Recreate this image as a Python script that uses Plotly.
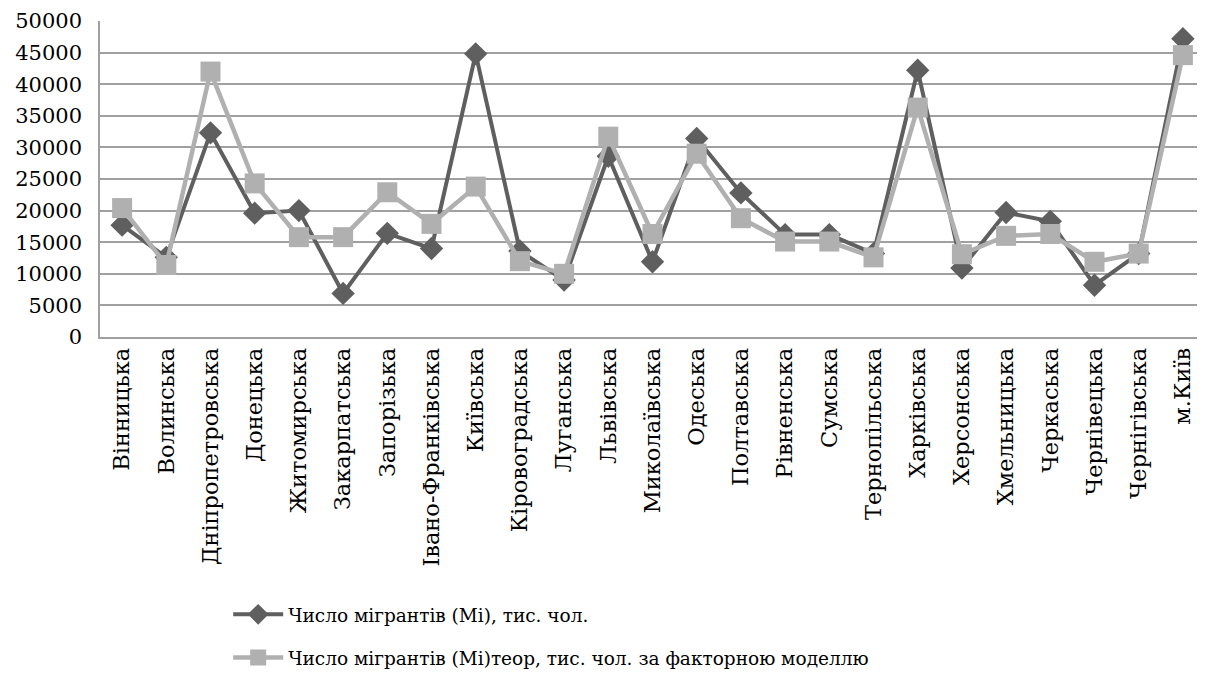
import plotly.graph_objects as go

regions = ["Вінницька", "Волинська", "Дніпропетровська", "Донецька", "Житомирська",
           "Закарпатська", "Запорізька", "Івано-Франківська", "Київська", "Кіровоградська",
           "Луганська", "Львівська", "Миколаївська", "Одеська", "Полтавська", "Рівненська",
           "Сумська", "Тернопільська", "Харківська", "Херсонська", "Хмельницька", "Черкаська",
           "Чернівецька", "Чернігівська", "м.Київ"]

migrants = [17700, 12600, 32300, 19600, 20000, 6900, 16400, 14000, 44800, 13600,
            9000, 28600, 11900, 31400, 22800, 16200, 16200, 13200, 42200, 10900,
            19700, 18300, 8200, 13200, 47200]

migrants_theor = [20400, 11400, 42000, 24300, 15800, 15800, 22900, 17900, 23800, 12000,
                  10000, 31700, 16300, 29000, 18800, 15100, 15100, 12600, 36300, 13100,
                  16000, 16300, 11900, 13200, 44600]

name1 = "Число мігрантів (Мі), тис. чол."
name2 = "Число мігрантів (Мі)теор, тис. чол. за факторною моделлю"

fig = go.Figure()
fig.add_trace(go.Scatter(x=regions, y=migrants, name=name1, mode="lines+markers",
                         line=dict(color="#5f5f5f", width=4),
                         marker=dict(symbol="diamond", size=18, color="#5f5f5f"),
                         legendgroup="a"))
fig.add_trace(go.Scatter(x=regions, y=migrants_theor, name=name2, mode="lines+markers",
                         line=dict(color="#b0b0b0", width=4.5),
                         marker=dict(symbol="square", size=20, color="#b0b0b0"),
                         legendgroup="b"))

ff = "DejaVu Serif"
fig.update_layout(
    width=1197, height=673,
    margin=dict(l=92, r=0, t=13, b=344, autoexpand=False),
    paper_bgcolor="white", plot_bgcolor="white",
    font=dict(family=ff, size=21, color="black"),
    xaxis=dict(type="category", tickangle=-90, showgrid=False, showline=True,
               linecolor="#a0a0a0", linewidth=1.5, tickfont=dict(size=22.5, family=ff),
               ticks="", range=[-0.5, 24.5], automargin=False),
    yaxis=dict(range=[0, 50000], dtick=5000, showgrid=True, gridcolor="#a0a0a0",
               gridwidth=1.5, showline=True, linecolor="#a0a0a0", linewidth=1.5,
               tickfont=dict(size=21, family=ff), ticks="", zeroline=False,
               tickformat="d", automargin=False, ticklabelstandoff=12),
    legend=dict(x=0.116, y=-0.819, xanchor="left", yanchor="top", orientation="v",
                font=dict(size=18.5, family=ff), tracegroupgap=16,
                bgcolor="rgba(0,0,0,0)", itemwidth=50),
    showlegend=True,
)

fig.write_html("out.html")
